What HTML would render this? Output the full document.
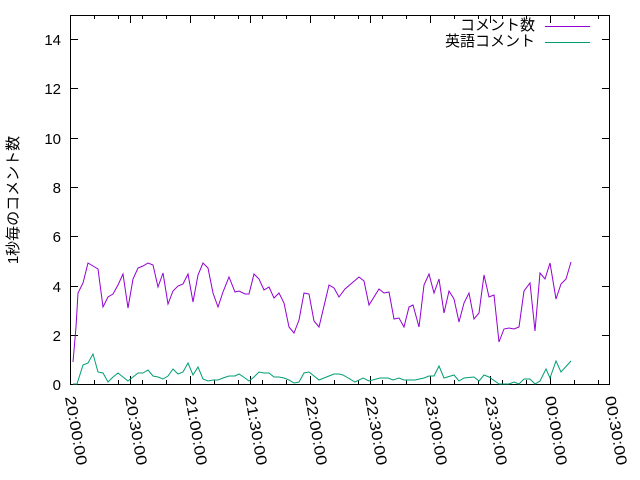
<!DOCTYPE html>
<html><head><meta charset="utf-8"><style>body{margin:0;background:#fff}svg{display:block}text{font-family:"Liberation Sans","Noto Sans CJK JP",sans-serif;font-size:15px;fill:#000}</style></head><body>
<svg width="640" height="480" xmlns="http://www.w3.org/2000/svg">
<rect width="640" height="480" fill="#fff"/>
<g stroke="#000" stroke-width="1" fill="none">
<rect x="70.5" y="15.5" width="539" height="369"/>
<path d="M70 335.5h8M70 286.5h8M70 236.5h8M70 187.5h8M70 138.5h8M70 88.5h8M70 39.5h8M610 335.5h-8M610 286.5h-8M610 236.5h-8M610 187.5h-8M610 138.5h-8M610 88.5h-8M610 39.5h-8"/>
<path d="M130.5 384v-8M190.5 384v-8M250.5 384v-8M310.5 384v-8M370.5 384v-8M430.5 384v-8M490.5 384v-8M550.5 384v-8M130.5 15v8M190.5 15v8M250.5 15v8M310.5 15v8M370.5 15v8M430.5 15v8M490.5 15v8M550.5 15v8"/>
<path d="M94.5 384v-4M118.5 384v-4M142.5 384v-4M166.5 384v-4M214.5 384v-4M238.5 384v-4M262.5 384v-4M286.5 384v-4M334.5 384v-4M358.5 384v-4M382.5 384v-4M406.5 384v-4M454.5 384v-4M478.5 384v-4M502.5 384v-4M526.5 384v-4M574.5 384v-4M598.5 384v-4M94.5 15v4M118.5 15v4M142.5 15v4M166.5 15v4M214.5 15v4M238.5 15v4M262.5 15v4M286.5 15v4M334.5 15v4M358.5 15v4M382.5 15v4M406.5 15v4M454.5 15v4M478.5 15v4M502.5 15v4M526.5 15v4M574.5 15v4M598.5 15v4"/>
</g>
<g text-anchor="end">
<text x="61" y="390">0</text><text x="61" y="341">2</text><text x="61" y="292">4</text><text x="61" y="242">6</text><text x="61" y="193">8</text><text x="61" y="144">10</text><text x="61" y="94">12</text><text x="61" y="45">14</text>
</g>
<g>
<text transform="translate(65,397) rotate(80)" textLength="70" lengthAdjust="spacingAndGlyphs">20:00:00</text>
<text transform="translate(125,397) rotate(80)" textLength="70" lengthAdjust="spacingAndGlyphs">20:30:00</text>
<text transform="translate(185,397) rotate(80)" textLength="70" lengthAdjust="spacingAndGlyphs">21:00:00</text>
<text transform="translate(245,397) rotate(80)" textLength="70" lengthAdjust="spacingAndGlyphs">21:30:00</text>
<text transform="translate(305,397) rotate(80)" textLength="70" lengthAdjust="spacingAndGlyphs">22:00:00</text>
<text transform="translate(365,397) rotate(80)" textLength="70" lengthAdjust="spacingAndGlyphs">22:30:00</text>
<text transform="translate(425,397) rotate(80)" textLength="70" lengthAdjust="spacingAndGlyphs">23:00:00</text>
<text transform="translate(485,397) rotate(80)" textLength="70" lengthAdjust="spacingAndGlyphs">23:30:00</text>
<text transform="translate(545,397) rotate(80)" textLength="70" lengthAdjust="spacingAndGlyphs">00:00:00</text>
<text transform="translate(605,397) rotate(80)" textLength="70" lengthAdjust="spacingAndGlyphs">00:30:00</text>
</g>
<text transform="translate(18,200) rotate(-90)" text-anchor="middle">1秒毎のコメント数</text>
<text x="535" y="30" text-anchor="end">コメント数</text>
<text x="535" y="46" text-anchor="end">英語コメント</text>
<path d="M545 26.5h45" stroke="#9400d3"/>
<path d="M545 42.5h45" stroke="#009e73"/>
<polyline fill="none" stroke="#9400d3" stroke-width="1" points="73,362 76,327 78,293 83,283 88,263 93,266 98,269 103,307 108,297 113,294 118,285 123,274 128,308 133,279 138,268 143,266 148,263 153,265 158,287 163,273 168,304 173,291 178,286 183,284 188,274 193,302 198,275 203,263 208,268 213,293 218,307 223,292 229,277 235,292 239,291 245,294 249,294 254,274 259,279 264,290 269,287 274,298 279,293 284,303 289,327 294,333 299,320 304,293 309,294 314,321 319,327 324,306 329,285 334,288 339,297 345,289 352,283 359,277 364,281 369,305 379,289 384,293 389,292 394,319 399,318 404,327 409,307 413,305 419,327 424,285 429,274 434,293 439,279 444,313 449,291 454,299 459,322 464,303 469,293 474,319 479,313 484,275 489,297 494,295 499,342 504,329 509,328 514,329 519,327 524,291 530,283 535,331 540,273 545,279 550,263 556,299 561,284 566,279 571,262"/>
<polyline fill="none" stroke="#009e73" stroke-width="1" points="73,384 77,384 83,365 88,363 93,354 98,372 103,373 108,382 113,377 118,373 123,377 128,381 133,377 138,373 143,373 148,370 153,376 158,377 163,379 168,376 173,369 178,374 183,372 188,363 193,375 198,367 203,379 208,381 213,380 218,380 223,378 229,376 235,376 239,374 245,378 249,381 254,377 259,372 264,373 269,373 274,377 279,377 284,378 289,380 294,383 299,382 304,373 309,372 314,376 319,380 324,378 329,376 334,374 339,374 343,375 355,382 363,378 369,381 380,378 388,378 393,380 399,378 404,380 415,380 424,378 429,376 434,376 439,366 444,378 454,375 459,381 464,378 474,377 479,381 484,375 489,377 499,384 504,384 509,384 514,382 519,384 524,379 530,379 535,384 540,381 546,369 550,378 556,361 561,372 571,361"/>
</svg>
</body></html>
